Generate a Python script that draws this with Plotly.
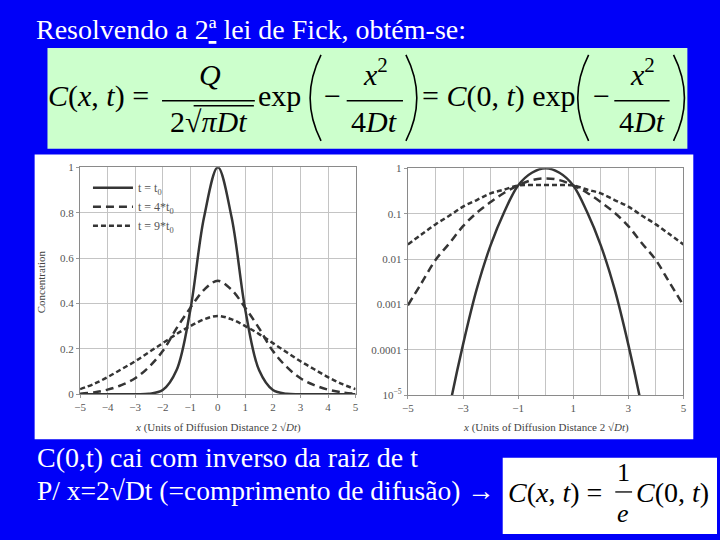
import plotly.graph_objects as go

# ---------------- data ----------------
x_pos = [-5, -4.5, -4, -3.5, -3, -2.5, -2, -1.5, -1, -0.5, 0,
         0.5, 1, 1.5, 2, 2.5, 3, 3.5, 4, 4.5, 5]

# linear panel
lin_t0 = [0, 0, 0, 0, 0.0001, 0.002, 0.018, 0.105, 0.37, 0.78, 1.0,
          0.78, 0.37, 0.105, 0.018, 0.002, 0.0001, 0, 0, 0, 0]
lin_4t0 = [0.002, 0.008, 0.02, 0.04, 0.07, 0.12, 0.19, 0.29, 0.38, 0.46, 0.5,
           0.46, 0.38, 0.29, 0.19, 0.12, 0.07, 0.04, 0.02, 0.008, 0.002]
lin_9t0 = [0.022, 0.045, 0.075, 0.11, 0.145, 0.185, 0.225, 0.265, 0.3, 0.33, 0.345,
           0.33, 0.3, 0.265, 0.225, 0.185, 0.145, 0.11, 0.075, 0.045, 0.022]

# log panel
log_t0 = [1e-11, 2e-9, 1e-7, 5e-6, 1.3e-4, 2.2e-3, 0.02, 0.11, 0.42, 0.8, 1.0,
          0.8, 0.42, 0.11, 0.02, 2.2e-3, 1.3e-4, 5e-6, 1e-7, 2e-9, 1e-11]
log_4t0 = [0.00096, 0.003, 0.0095, 0.022, 0.053, 0.105, 0.18, 0.29, 0.42, 0.55, 0.6,
           0.55, 0.42, 0.29, 0.18, 0.105, 0.053, 0.022, 0.0095, 0.003, 0.00096]
log_9t0 = [0.021, 0.035, 0.058, 0.09, 0.143, 0.2, 0.28, 0.34, 0.42, 0.43, 0.43,
           0.43, 0.42, 0.34, 0.28, 0.2, 0.143, 0.09, 0.058, 0.035, 0.021]

series_names = ["t = t<sub>0</sub>", "t = 4*t<sub>0</sub>", "t = 9*t<sub>0</sub>"]
lin_x_ticks = [-5, -4, -3, -2, -1, 0, 1, 2, 3, 4, 5]
lin_y_ticks = [0, 0.2, 0.4, 0.6, 0.8, 1]
lin_y_text = ["0", "0.2", "0.4", "0.6", "0.8", "1"]
log_x_ticks = [-5, -3, -1, 1, 3, 5]
log_y_ticks = [1e-5, 1e-4, 1e-3, 1e-2, 1e-1, 1]
log_y_text = ["10<sup>−5</sup>", "0.0001", "0.001", "0.01", "0.1", "1"]

# ---------------- helpers ----------------
W, H = 720, 540
def X(px): return px / W
def Y(py): return 1 - py / H

SERIF = "Liberation Serif, Times New Roman, Times, serif"
LINE_COL = "#353535"
dashes = ["solid", "8px,5px", "5px,3px"]

fig = go.Figure()
for vals, name, d in zip([lin_t0, lin_4t0, lin_9t0], series_names, dashes):
    fig.add_trace(go.Scatter(x=x_pos, y=vals, mode="lines", name=name,
                             line=dict(color=LINE_COL, width=2.5, dash=d,
                                       shape="spline", smoothing=1.0),
                             xaxis="x", yaxis="y"))
for vals, name, d in zip([log_t0, log_4t0, log_9t0], series_names, dashes):
    fig.add_trace(go.Scatter(x=x_pos, y=vals, mode="lines", name=name,
                             showlegend=False,
                             line=dict(color=LINE_COL, width=2.5, dash=d,
                                       shape="spline", smoothing=1.0),
                             xaxis="x2", yaxis="y2"))

tickfont = dict(family=SERIF, size=11, color="#555")
axis_common = dict(showline=True, linecolor="#8a8a8a", linewidth=1.2, mirror=True,
                   showgrid=True, gridcolor="#c4c4c4", gridwidth=1,
                   zeroline=False, ticks="outside", ticklen=3, tickcolor="#999",
                   tickfont=tickfont)

fig.update_layout(
    width=W, height=H,
    margin=dict(l=0, r=0, t=0, b=0),
    paper_bgcolor="#0000f8",
    plot_bgcolor="white",
    font=dict(family=SERIF),
    xaxis=dict(domain=[X(75), X(354)], range=[-5, 5], tickvals=lin_x_ticks,
               anchor="y", **axis_common),
    yaxis=dict(domain=[Y(397), Y(165)], range=[0, 1], tickvals=lin_y_ticks,
               ticktext=lin_y_text, anchor="x", **axis_common),
    xaxis2=dict(domain=[X(407), X(686)], range=[-5, 5], tickvals=log_x_ticks,
                minor=dict(dtick=1, tick0=0, showgrid=True, gridcolor="#c4c4c4",
                           ticks=""),
                anchor="y2", **axis_common),
    yaxis2=dict(domain=[Y(398), Y(166)], type="log", range=[-5, 0],
                tickvals=log_y_ticks, ticktext=log_y_text, anchor="x2",
                **axis_common),
    legend=dict(x=X(83), y=Y(171), xanchor="left", yanchor="top",
                bgcolor="rgba(0,0,0,0)", font=dict(family=SERIF, size=12, color="#555"),
                itemwidth=40, tracegroupgap=0),
    showlegend=True,
)

shapes = []
# white image area behind the charts
shapes.append(dict(type="rect", xref="paper", yref="paper", x0=X(29), x1=X(696),
                   y0=Y(443), y1=Y(152), fillcolor="white", line=dict(width=0), layer="below"))
# green formula box
shapes.append(dict(type="rect", xref="paper", yref="paper", x0=X(42), x1=X(690),
                   y0=Y(146), y1=Y(43), fillcolor="#ccffcc", line=dict(width=0), layer="below"))
# white box bottom right
shapes.append(dict(type="rect", xref="paper", yref="paper", x0=X(503), x1=X(720),
                   y0=Y(540), y1=Y(462), fillcolor="white", line=dict(width=0), layer="below"))

def hline(x0, x1, y, w=1.5):
    shapes.append(dict(type="line", xref="paper", yref="paper", x0=X(x0), x1=X(x1),
                       y0=Y(y), y1=Y(y), line=dict(color="black", width=w)))

def paren(xe, xm, ytop, ybot, w=1.6):
    cx = 2 * xm - xe
    cy = (ytop + ybot) / 2
    path = f"M {X(xe)},{Y(ytop)} Q {X(cx)},{Y(cy)} {X(xe)},{Y(ybot)}"
    shapes.append(dict(type="path", xref="paper", yref="paper", path=path,
                       line=dict(color="black", width=w)))

# fraction bars in the main formula
hline(158, 252, 97)
hline(190, 251, 102, 1.3)   # sqrt vinculum
hline(345, 402, 97)
hline(616, 672, 97)
paren(319, 308, 50, 138)
paren(405, 416, 50, 138)
paren(590, 579, 50, 138)
paren(676, 687, 50, 138)
# bottom formula fraction
hline(617, 634, 497, 1.3)

fig.update_layout(shapes=shapes)

anns = []
def txt(text, x, y, size, color="black", xanchor="left", angle=0, family=SERIF):
    anns.append(dict(text=text, x=X(x), y=Y(y), xref="paper", yref="paper",
                     showarrow=False, xanchor=xanchor, yanchor="middle",
                     textangle=angle, font=dict(family=family, size=size, color=color)))

# title and bottom text
txt("Resolvendo a 2<u>ª</u> lei de Fick, obtém-se:", 28, 24, 28, color="white")
txt("C(0,t) cai com inverso da raiz de t", 29, 462, 28, color="white")
txt("P/ x=2√Dt (=comprimento de difusão) →", 29, 496, 27.5, color="white")

# main formula
FS = 30
txt("<i>C</i>(<i>x</i>, <i>t</i>) =", 41, 92, FS)
txt("<i>Q</i>", 207, 70, FS, xanchor="center")
txt("2√<i>πDt</i>", 205, 118, FS, xanchor="center")
txt("exp", 253, 92, FS)
txt("−", 331, 92, FS, xanchor="center")
txt("<i>x</i><sup>2</sup>", 374, 67, FS, xanchor="center")
txt("4<i>Dt</i>", 373, 118, FS, xanchor="center")
txt("= <i>C</i>(0, <i>t</i>) exp", 419, 92, FS)
txt("−", 603, 92, FS, xanchor="center")
txt("<i>x</i><sup>2</sup>", 645, 67, FS, xanchor="center")
txt("4<i>Dt</i>", 644, 118, FS, xanchor="center")

# bottom formula
txt("<i>C</i>(<i>x</i>, <i>t</i>) =", 506, 498, 28)
txt("1", 625, 477, 26, xanchor="center")
txt("<i>e</i>", 625, 519, 26, xanchor="center")
txt("<i>C</i>(0, <i>t</i>)", 636, 498, 28)

# axis titles
axfont = "#444"
txt("<i>x</i> (Units of Diffusion Distance 2 √<i>Dt</i>)", 215, 431, 11, color=axfont, xanchor="center")
txt("<i>x</i> (Units of Diffusion Distance 2 √<i>Dt</i>)", 547, 431, 11, color=axfont, xanchor="center")
txt("Concentration", 35, 282, 11, color=axfont, xanchor="center", angle=-90)

fig.update_layout(annotations=anns)

fig.write_html("out.html", config={"displayModeBar": False},
               post_script="document.body.style.margin='0';document.body.style.overflow='hidden';")
